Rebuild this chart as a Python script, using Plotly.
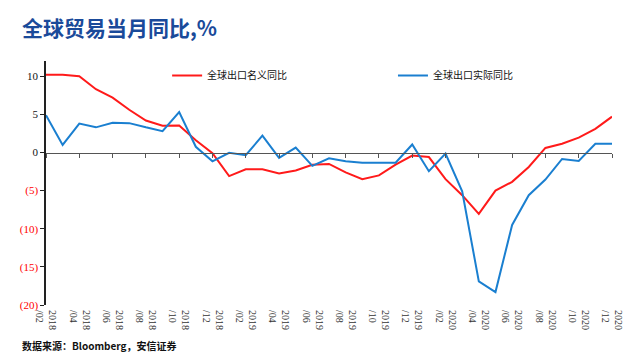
import plotly.graph_objects as go

months = [f"{y}/{m:02d}" for y, m in
          [(2018, m) for m in range(2, 13)] + [(2019, m) for m in range(1, 13)] + [(2020, m) for m in range(1, 13)]]

nominal = [10.2, 10.2, 10.0, 8.3, 7.2, 5.6, 4.2, 3.5, 3.55, 1.6, -0.1, -3.1, -2.2, -2.2, -2.75, -2.35,
           -1.6, -1.5, -2.6, -3.5, -3.0, -1.6, -0.4, -0.6, -3.5, -5.6, -8.05, -5.0, -3.85, -1.9,
           0.6, 1.15, 1.95, 3.1, 4.7]
real = [4.9, 1.0, 3.8, 3.3, 3.9, 3.85, 3.3, 2.8, 5.3, 0.75, -1.15, -0.05, -0.35, 2.2, -0.7, 0.65,
        -1.75, -0.75, -1.15, -1.35, -1.35, -1.35, 1.05, -2.45, -0.15, -5.1, -16.9, -18.3, -9.5,
        -5.6, -3.55, -0.85, -1.1, 1.15, 1.15]

tick_months = months[::2]
tick_labels = [m.replace("/", "<br>/") for m in tick_months]
y_vals = [10, 5, 0, -5, -10, -15, -20]
y_text = ["10", "5", "0"] + [f"<span style='color:#ff0000'>({-v})</span>" for v in y_vals[3:]]

fig = go.Figure()
fig.add_trace(go.Scatter(x=months, y=nominal, mode="lines", name="全球出口名义同比",
                         line=dict(color="#ff1a1a", width=2), xaxis="x", legend="legend"))
fig.add_trace(go.Scatter(x=months, y=real, mode="lines", name="全球出口实际同比",
                         line=dict(color="#1a7fd0", width=2), xaxis="x2", legend="legend2"))

serif = "Liberation Serif"
fig.update_layout(
    width=629, height=352,
    margin=dict(l=35, r=25, t=53, b=55),
    paper_bgcolor="white", plot_bgcolor="white",
    showlegend=True,
    xaxis=dict(type="category", categoryorder="array", categoryarray=months,
               range=[0, len(months) - 1], tickmode="array", tickvals=tick_months,
               ticktext=tick_labels, tickangle=90, showline=False, ticks="",
               ticklabelstandoff=4,
               showgrid=False, zeroline=False,
               tickfont=dict(family=serif, size=10, color="#333333")),
    xaxis2=dict(type="category", categoryorder="array", categoryarray=months,
                overlaying="x", matches="x", anchor="free", position=0.625,
                showline=True, linecolor="#555555", linewidth=1,
                ticks="outside", ticklen=4, tickcolor="#555555",
                tickmode="array", tickvals=tick_months, showticklabels=False,
                showgrid=False, zeroline=False),
    yaxis=dict(range=[-20, 12], tickmode="array", tickvals=y_vals, ticktext=y_text,
               showline=True, linecolor="#222222", linewidth=1.5,
               ticks="outside", ticklen=4, tickcolor="#222222",
               showgrid=False, zeroline=False,
               tickfont=dict(family=serif, size=11, color="#111111")),
    legend=dict(x=0.214, y=1.0, xanchor="left", yanchor="top", bgcolor="rgba(0,0,0,0)",
                font=dict(family="Noto Sans CJK SC", size=10, color="#111111")),
    legend2=dict(x=0.613, y=1.0, xanchor="left", yanchor="top", bgcolor="rgba(0,0,0,0)",
                 font=dict(family="Noto Sans CJK SC", size=10, color="#111111")),
    annotations=[
        dict(text="<b>全球贸易当月同比,%</b>", xref="paper", yref="paper",
             x=-0.046, y=1.21, xanchor="left", yanchor="top", showarrow=False,
             font=dict(family="Noto Sans CJK SC", size=21, color="#1a4a9a")),
        dict(text="<b>数据来源：Bloomberg，安信证券</b>", xref="paper", yref="paper",
             x=-0.046, y=-0.168, xanchor="left", yanchor="middle", showarrow=False,
             font=dict(family="Noto Sans CJK SC", size=10, color="#111111")),
    ],
)

fig.write_html("out.html")
